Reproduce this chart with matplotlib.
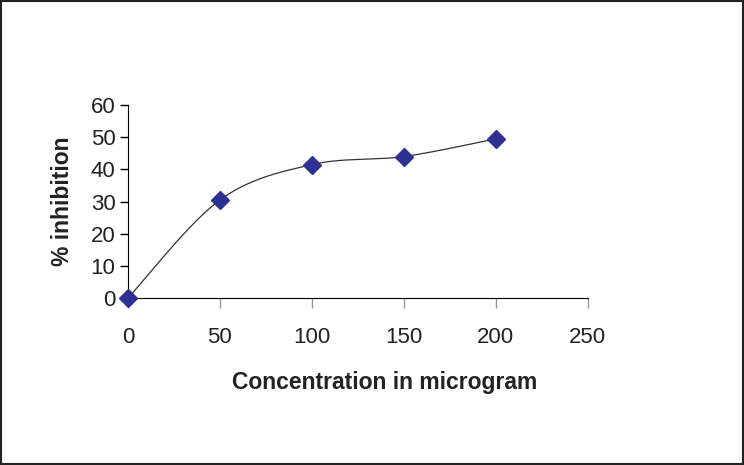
import numpy as np
import matplotlib.pyplot as plt
from matplotlib.patches import Rectangle

plt.rcParams['font.family'] = ['Liberation Sans', 'DejaVu Sans']

concentration = [0, 50, 100, 150, 200]
inhibition = [0, 30.5, 41.5, 44, 49.5]


def smooth_curve(xs, ys, n=40):
    """Catmull-Rom style smoothing like Excel's smoothed line."""
    pts = np.column_stack([xs, ys]).astype(float)
    ext = np.vstack([pts[0], pts, pts[-1]])
    out = []
    for i in range(1, len(ext) - 2):
        p0, p1, p2, p3 = ext[i - 1], ext[i], ext[i + 1], ext[i + 2]
        c1 = p1 + (p2 - p0) / 6
        c2 = p2 - (p3 - p1) / 6
        t = np.linspace(0, 1, n)[:, None]
        seg = ((1 - t) ** 3 * p1 + 3 * (1 - t) ** 2 * t * c1
               + 3 * (1 - t) * t ** 2 * c2 + t ** 3 * p2)
        out.append(seg if i == 1 else seg[1:])
    out = np.vstack(out)
    return out[:, 0], out[:, 1]


fig = plt.figure(figsize=(7.44, 4.65), dpi=100)
ax = fig.add_axes([0.172, 0.359, 0.618, 0.415])

sx, sy = smooth_curve(concentration, inhibition)
ax.plot(sx, sy, color='#333333', lw=0.9, zorder=2)
ax.plot(concentration, inhibition, linestyle='none', marker='D',
        markersize=9, color='#2E3192', markeredgecolor='#2E3192',
        zorder=3, clip_on=False)

ax.set_xlim(0, 250)
ax.set_ylim(0, 60)
ax.set_xticks([0, 50, 100, 150, 200, 250])
ax.set_yticks([0, 10, 20, 30, 40, 50, 60])
ax.spines['top'].set_visible(False)
ax.spines['right'].set_visible(False)
ax.spines['left'].set_color('black')
ax.spines['bottom'].set_color('black')
ax.tick_params(axis='y', direction='out', length=6, width=1, labelsize=16,
               pad=3, colors='black')
ax.tick_params(axis='x', direction='out', length=7, width=1, labelsize=16,
               pad=14, colors='#999999')
for lab in ax.get_yticklabels() + ax.get_xticklabels():
    lab.set_color('#222222')

ax.set_xlabel('Concentration in microgram', fontsize=16.5, fontweight='bold',
              color='#222222')
ax.xaxis.set_label_coords(0.559, -0.38)
ax.set_ylabel('% inhibition', fontsize=16.5, fontweight='bold',
              labelpad=12, color='#222222')

fig.patches.append(Rectangle((0.002, 0.003), 0.996, 0.994,
                             transform=fig.transFigure, fill=False,
                             edgecolor='#222222', lw=1.5))

fig.savefig('out.png', dpi=100)
